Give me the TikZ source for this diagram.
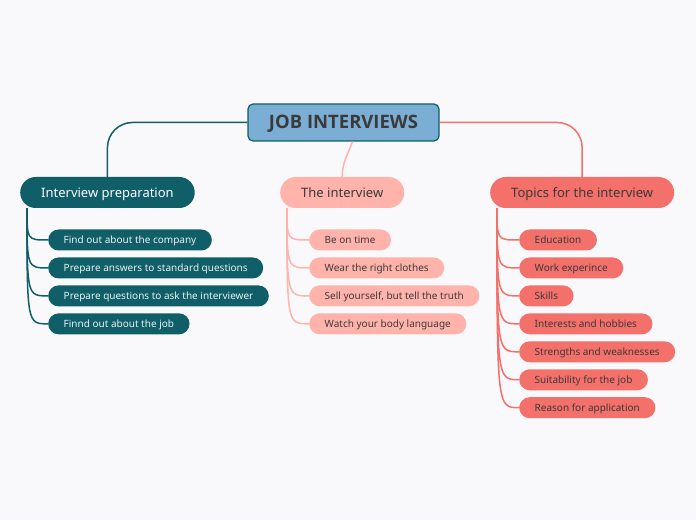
\documentclass[tikz,border=0pt]{standalone}
\usepackage{fontspec}
\setmainfont{Noto Sans}
\newfontfamily\titlefont{Open Sans}
\usetikzlibrary{positioning,calc}

\definecolor{bgcol}{HTML}{F9F9FB}
\definecolor{rootblue}{HTML}{7BAED4}
\definecolor{tealc}{HTML}{0F5E68}
\definecolor{pinkc}{HTML}{FFB3AB}
\definecolor{coralc}{HTML}{F4706A}
\definecolor{darktext}{HTML}{3A3A3A}

\tikzset{
  rootbox/.style={draw=tealc, line width=1.2pt, fill=rootblue, rounded corners=5pt, minimum width=191pt, minimum height=37pt, text=darktext, text height=13pt, text depth=1pt, font=\titlefont\fontsize{18.5}{21}\selectfont\bfseries},
  branchbox/.style={rounded corners=15.5pt, minimum height=31pt, inner xsep=21pt, anchor=west, text height=11.5pt, text depth=1pt, font=\fontsize{13}{15}\selectfont},
  leafbox/.style={rounded corners=10.5pt, minimum height=21pt, inner xsep=15.5pt, text height=9pt, text depth=1pt, font=\fontsize{10}{12}\selectfont},
  nextleaf/.style={below=6.55pt of #1.south west, anchor=north west},
  link/.style={line width=1.5pt},
}

\begin{document}
\begin{tikzpicture}[x=1pt, y=1pt]
    \fill [bgcol] (0,0) rectangle (696,520);

    \node (root) [rootbox] at (343.5,397.5) {JOB INTERVIEWS};

    \node (prep) [branchbox, fill=tealc, text=white] at (20,327.5) {Interview preparation};
    \node (interview) [branchbox, fill=pinkc, text=darktext] at (280,327.5) {The interview};
    \node (topics) [branchbox, fill=coralc, text=darktext] at (490,327.5) {Topics for the interview};

    % interview preparation
    \node (prep1) [leafbox, fill=tealc, text=white!92!tealc, anchor=west] at (48,280) {Find out about the company};
    \node (prep2) [leafbox, fill=tealc, text=white!92!tealc, nextleaf=prep1] {Prepare answers to standard questions};
    \node (prep3) [leafbox, fill=tealc, text=white!92!tealc, nextleaf=prep2] {Prepare questions to ask the interviewer};
    \node (prep4) [leafbox, fill=tealc, text=white!92!tealc, nextleaf=prep3] {Finnd out about the job};

    % the interview
    \node (inter1) [leafbox, fill=pinkc, text=darktext, anchor=west] at (309,280) {Be on time};
    \node (inter2) [leafbox, fill=pinkc, text=darktext, nextleaf=inter1] {Wear the right clothes};
    \node (inter3) [leafbox, fill=pinkc, text=darktext, nextleaf=inter2] {Sell yourself, but tell the truth};
    \node (inter4) [leafbox, fill=pinkc, text=darktext, nextleaf=inter3] {Watch your body language};

    % topics
    \node (topic1) [leafbox, fill=coralc, text=darktext, anchor=west] at (519,280) {Education};
    \node (topic2) [leafbox, fill=coralc, text=darktext, nextleaf=topic1] {Work experince};
    \node (topic3) [leafbox, fill=coralc, text=darktext, nextleaf=topic2] {Skills};
    \node (topic4) [leafbox, fill=coralc, text=darktext, nextleaf=topic3] {Interests and hobbies};
    \node (topic5) [leafbox, fill=coralc, text=darktext, nextleaf=topic4] {Strengths and weaknesses};
    \node (topic6) [leafbox, fill=coralc, text=darktext, nextleaf=topic5] {Suitability for the job};
    \node (topic7) [leafbox, fill=coralc, text=darktext, nextleaf=topic6] {Reason for application};

    % main branches
    \draw [link, tealc, rounded corners=25pt] (root.west) -| (prep.north);
    \draw [link, coralc, rounded corners=25pt] (root.east) -| (topics.north);
    \draw [link, pinkc] ($(root.south)+(9,0)$) to[out=-110, in=90] (interview.north);

    \coordinate (prep-base) at ($(prep.south west)+(7,0)$);
    \coordinate (inter-base) at ($(interview.south west)+(7,0)$);
    \coordinate (topic-base) at ($(topics.south west)+(7,0)$);

    \foreach \n in {prep1,prep2,prep3,prep4}
        \draw [link, tealc] (prep-base) .. controls (prep-base |- \n.west) .. (\n.west);
    \foreach \n in {inter1,inter2,inter3,inter4}
        \draw [link, pinkc] (inter-base) .. controls (inter-base |- \n.west) .. (\n.west);
    \foreach \n in {topic1,topic2,topic3,topic4,topic5,topic6,topic7}
        \draw [link, coralc] (topic-base) .. controls (topic-base |- \n.west) .. (\n.west);
\end{tikzpicture}
\end{document}
